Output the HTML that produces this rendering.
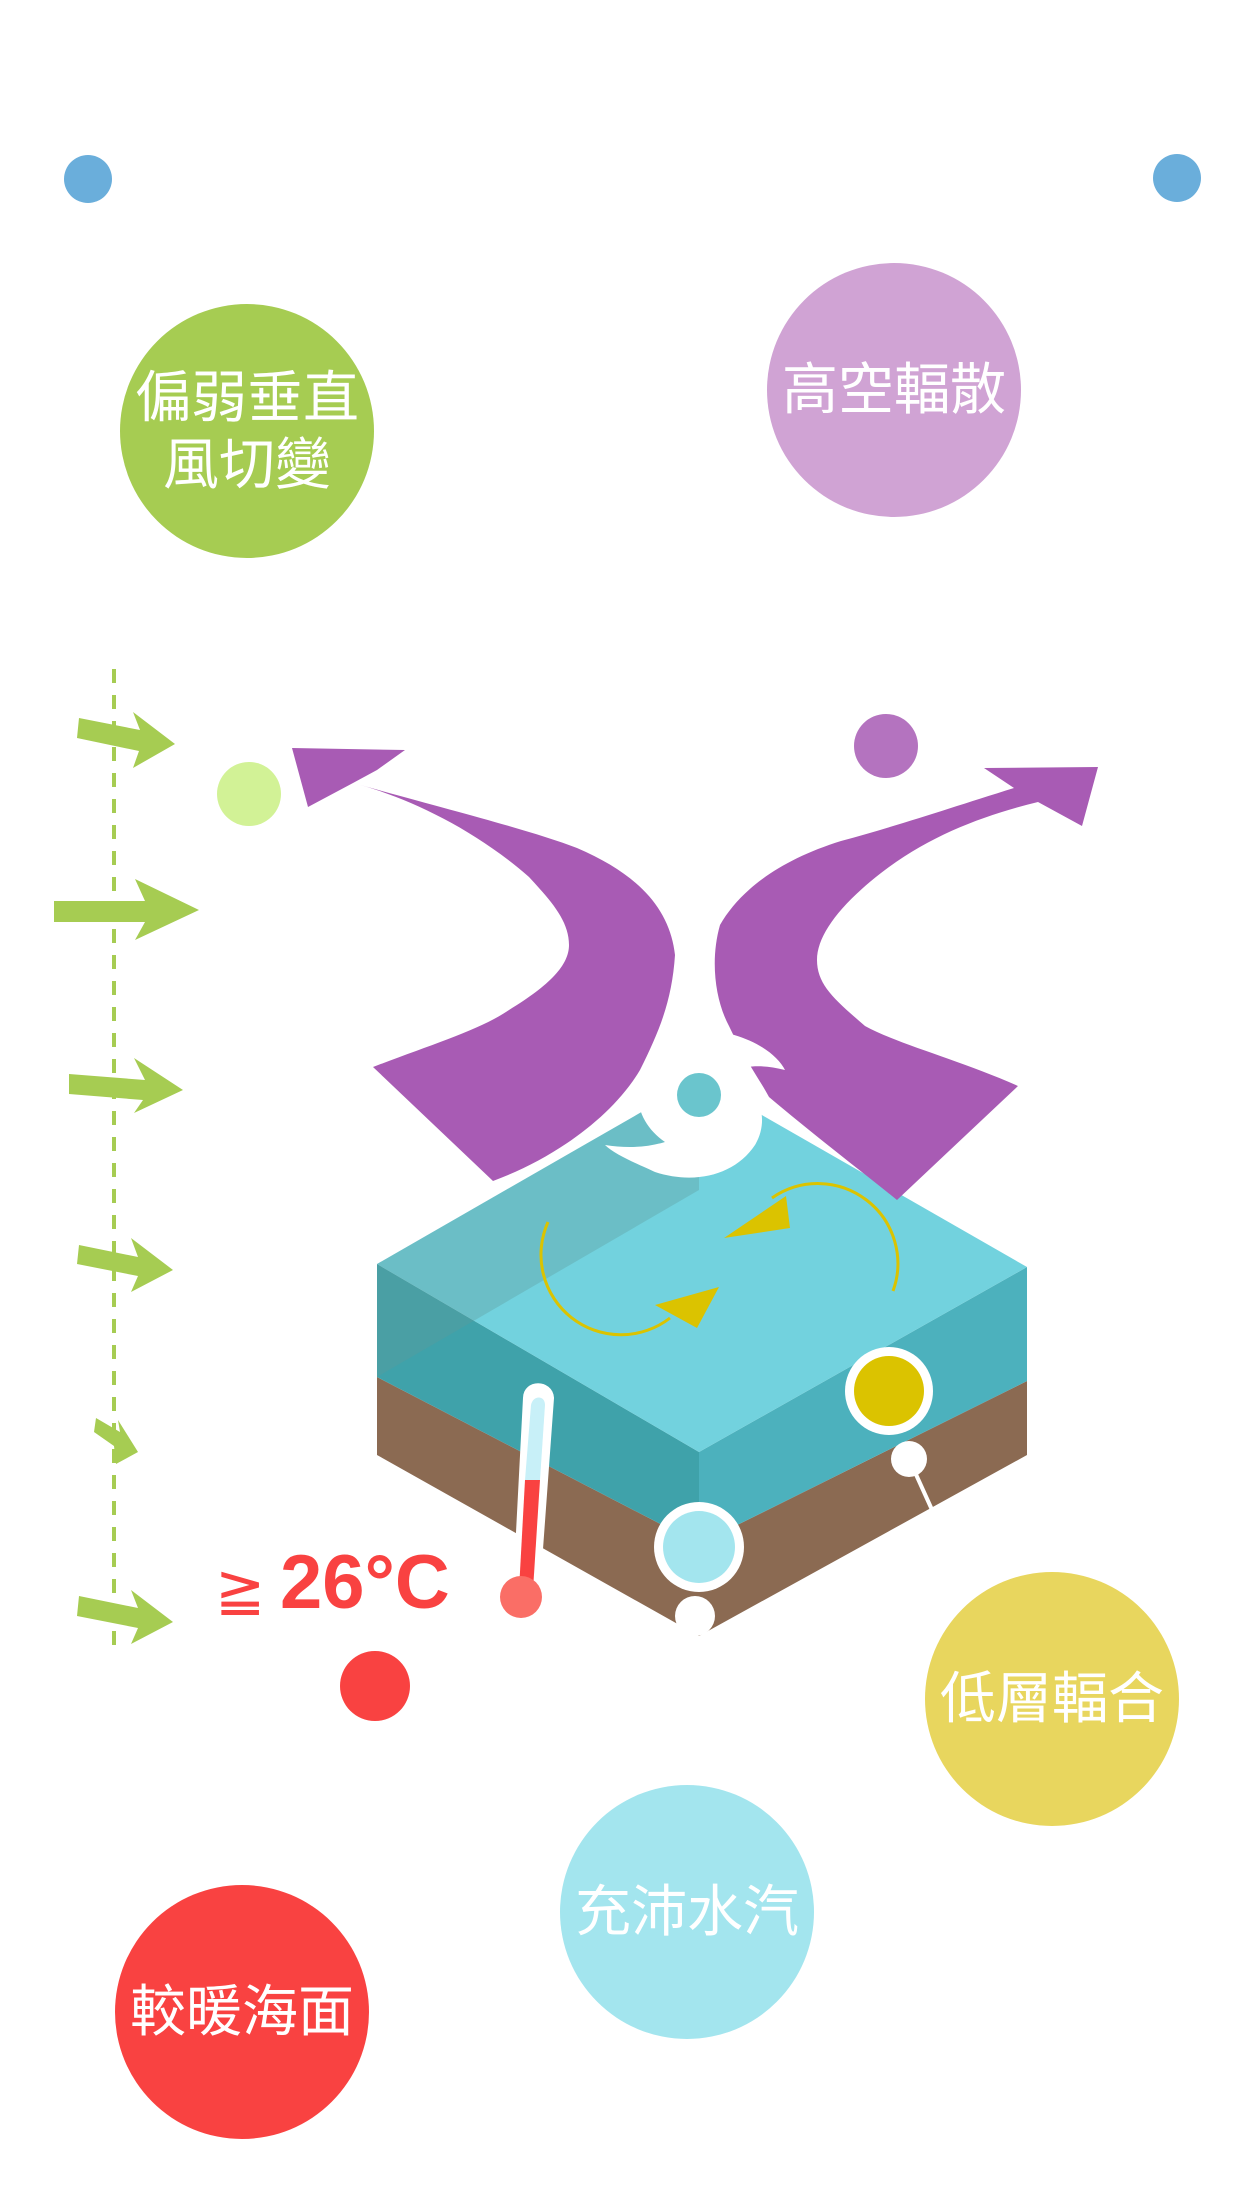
<!DOCTYPE html>
<html><head><meta charset="utf-8">
<style>
html,body{margin:0;padding:0;background:#fff;}
body{width:1242px;height:2208px;position:relative;overflow:hidden;font-family:"Liberation Sans","Noto Sans CJK TC",sans-serif;}
.c{position:absolute;border-radius:50%;display:flex;align-items:center;justify-content:center;text-align:center;color:#fff;font-size:56px;line-height:1.2;}
</style></head><body>
<div class="c" style="left:64px;top:155px;width:48px;height:48px;background:#6aaedb"></div>
<div class="c" style="left:1153px;top:154px;width:48px;height:48px;background:#6aaedb"></div>
<div class="c" style="left:120px;top:304px;width:254px;height:254px;background:#a6cc52">偏弱垂直<br>風切變</div>
<div class="c" style="left:767px;top:263px;width:254px;height:254px;background:#d0a3d4">高空輻散</div>
<div class="c" style="left:925px;top:1572px;width:254px;height:254px;background:#e8d65e">低層輻合</div>
<div class="c" style="left:560px;top:1785px;width:254px;height:254px;background:#a3e5ee">充沛水汽</div>
<div class="c" style="left:115px;top:1885px;width:254px;height:254px;background:#f94241">較暖海面</div>
<div class="c" style="left:340px;top:1651px;width:70px;height:70px;background:#f94241"></div>
<div class="c" style="left:217px;top:762px;width:64px;height:64px;background:#d2f296"></div>
<div class="c" style="left:854px;top:714px;width:64px;height:64px;background:#b473bf"></div>

<svg width="1242" height="2208" style="position:absolute;left:0;top:0">
<line x1="114" y1="669" x2="114" y2="1654" stroke="#a6cc52" stroke-width="4" stroke-dasharray="14,12"/>
<g fill="#a6cc52">
<polygon points="79,718 140,730 133,712 175,744 133,768 139,751 77,738"/>
<polygon points="54,901 145,901 135,879 199,910 135,940 145,922 54,922"/>
<polygon points="69,1074 145,1080 134,1058 183,1090 134,1113 143,1100 69,1094"/>
<polygon points="79,1245 138,1257 131,1238 173,1270 131,1292 138,1276 77,1264"/>
<polygon points="96,1418 120,1432 118,1420 138,1452 116,1464 114,1446 94,1432"/>
<polygon points="79,1596 138,1608 131,1590 173,1622 131,1644 138,1628 77,1616"/>
</g>
<polygon points="377,1377 699,1544 1027,1381 1027,1455 699,1636 377,1455" fill="#8b6a52"/>
<polygon points="377,1264 699,1452 699,1544 377,1377" fill="#3fa2aa"/>
<polygon points="699,1452 1027,1267 1027,1381 699,1544" fill="#4cb1bd"/>
<polygon points="699,1079 377,1264 699,1452 1027,1267" fill="#72d2de"/>
<polygon points="699,1079 377,1264 377,1377 699,1190" fill="#5e9a9a" opacity="0.35"/>
<path d="M548,1222 A80,80 0 0 0 670,1318" fill="none" stroke="#dbc300" stroke-width="3"/>
<polygon points="655,1305 719,1287 697,1328" fill="#dbc300"/>
<path d="M893,1291 A80,80 0 0 0 772,1198" fill="none" stroke="#dbc300" stroke-width="3"/>
<polygon points="786,1196 724,1238 790,1228" fill="#dbc300"/>
<path fill="#a85bb4" d="M292,748 L405,750 L377,770 L353,783 C450,810 530,830 577,848 C640,875 670,910 675,955 C672,1000 660,1030 640,1070 C610,1120 550,1160 493,1181 L373,1067 C430,1045 480,1030 509,1010 C550,985 569,965 569,945 C569,920 550,900 529,877 C470,825 400,795 353,783 L308,807 Z"/>
<path fill="#a85bb4" d="M1098,767 L1082,826 L1038,802 L1014,788 C950,808 900,825 841,841 C780,860 740,890 720,925 C710,960 715,1000 729,1026 C745,1060 760,1080 769,1097 C820,1140 860,1170 897,1200 L1018,1086 C960,1060 900,1045 865,1026 C835,1000 817,985 817,960 C817,935 840,905 881,873 C930,835 985,815 1038,802 L1014,788 L984,768 Z"/>
<g fill="#fff">
<path d="M699,1030 C740,1030 775,1050 785,1070 C765,1065 750,1065 735,1070 C760,1090 770,1120 755,1145 C735,1175 695,1185 655,1172 C640,1165 615,1155 605,1145 C625,1148 645,1148 665,1142 C640,1125 630,1095 645,1070 C660,1045 680,1035 699,1030 Z"/>
</g>
<circle cx="699" cy="1095" r="22" fill="#6ac5cd"/>
<circle cx="889" cy="1391" r="44" fill="#fff"/>
<circle cx="889" cy="1391" r="35" fill="#dbc300"/>
<line x1="909" y1="1459" x2="933" y2="1512" stroke="#fff" stroke-width="4"/>
<circle cx="909" cy="1459" r="18" fill="#fff"/>
<circle cx="699" cy="1547" r="45" fill="#fff"/>
<circle cx="699" cy="1547" r="36" fill="#a3e5ee"/>
<circle cx="695" cy="1616" r="20" fill="#fff"/>
<path d="M528,1398 C528,1385 548,1385 549,1398 L535,1590 L518,1590 Z" fill="#fff" stroke="#fff" stroke-width="10" stroke-linejoin="round"/>
<path d="M531,1405 C533,1395 545,1395 545,1405 L540,1480 L525,1480 Z" fill="#c8f0f8"/>
<polygon points="525,1480 540,1480 533,1590 519,1590" fill="#f94241"/>
<circle cx="521" cy="1597" r="21" fill="#fa6e66"/>
<text x="215" y="1610" font-family="Liberation Sans, sans-serif" font-size="60" fill="#f94241">≧</text>
<text x="280" y="1608" font-family="Liberation Sans, sans-serif" font-weight="bold" font-size="76" fill="#f94241">26°C</text>
</svg>
</body></html>
